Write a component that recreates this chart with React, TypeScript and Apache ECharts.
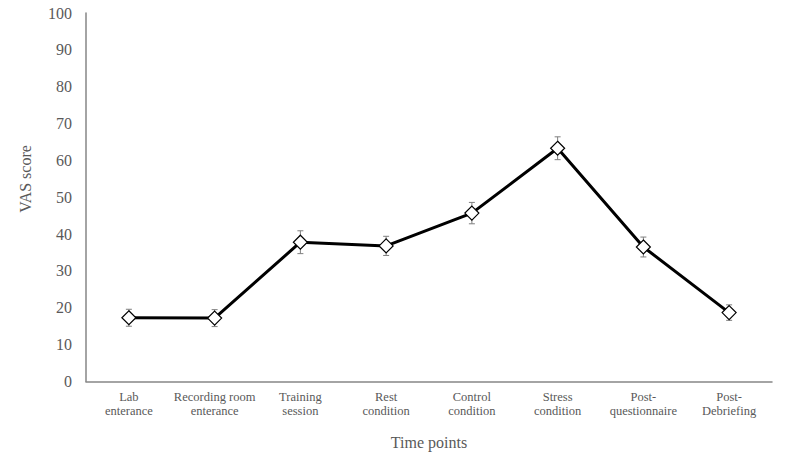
import React, { useEffect, useRef } from "react";
import * as echarts from "echarts";

const categories = [
  "Lab\nenterance",
  "Recording room\nenterance",
  "Training\nsession",
  "Rest\ncondition",
  "Control\ncondition",
  "Stress\ncondition",
  "Post-\nquestionnaire",
  "Post-\nDebriefing",
];
const vasMeans = [17.3, 17.2, 37.8, 36.8, 45.7, 63.3, 36.5, 18.7];
const vasErrors = [2.3, 2.3, 3.1, 2.6, 2.9, 3.1, 2.7, 2.1];
const yTicks = { min: 0, max: 100, interval: 10 };
const yTitle = "VAS score";
const xTitle = "Time points";

const FONT = "'Liberation Serif', 'DejaVu Serif', serif";

export default function App() {
  const ref = useRef<HTMLDivElement>(null);
  useEffect(() => {
    if (!ref.current) return;
    const chart = echarts.init(ref.current, null, { renderer: "svg" });
    const errData = vasMeans.map((m, i) => [i, m - vasErrors[i], m + vasErrors[i]]);
    chart.setOption({
      animation: false,
      backgroundColor: "#ffffff",
      graphic: [
        {
          type: "rect",
          shape: { x: 0.5, y: 0.5, width: 786, height: 456 },
          style: { fill: "none", stroke: "#d9d9d9", lineWidth: 1 },
          silent: true,
        },
        {
          type: "text",
          x: 25,
          y: 179,
          rotation: Math.PI / 2,
          style: {
            text: yTitle,
            fontFamily: FONT,
            fontSize: 16,
            fill: "#595959",
            align: "center",
            verticalAlign: "middle",
          },
          silent: true,
        },
      ],
      grid: { left: 86, right: 15, top: 13, bottom: 78.5 },
      xAxis: {
        type: "category",
        data: categories,
        boundaryGap: true,
        name: xTitle,
        nameLocation: "middle",
        nameGap: 53,
        nameTextStyle: { fontFamily: FONT, fontSize: 16, color: "#595959" },
        axisLine: { lineStyle: { color: "#868686", width: 1.5 } },
        axisTick: { show: false },
        axisLabel: {
          fontFamily: FONT,
          fontSize: 12.5,
          color: "#595959",
          lineHeight: 13.5,
          margin: 9,
          interval: 0,
        },
      },
      yAxis: {
        type: "value",
        min: yTicks.min,
        max: yTicks.max,
        interval: yTicks.interval,
        axisLine: { show: true, lineStyle: { color: "#868686", width: 1.5 } },
        axisTick: { show: false },
        splitLine: { show: false },
        axisLabel: { fontFamily: FONT, fontSize: 16, color: "#595959", margin: 14 },
      },
      series: [
        {
          type: "custom",
          data: errData,
          z: 1,
          renderItem: (params: any, api: any) => {
            const x = api.value(0);
            const lo = api.coord([x, api.value(1)]);
            const hi = api.coord([x, api.value(2)]);
            const cap = 3;
            const style = { stroke: "#7f7f7f", lineWidth: 1 };
            return {
              type: "group",
              children: [
                { type: "line", shape: { x1: lo[0], y1: lo[1], x2: hi[0], y2: hi[1] }, style },
                { type: "line", shape: { x1: lo[0] - cap, y1: lo[1], x2: lo[0] + cap, y2: lo[1] }, style },
                { type: "line", shape: { x1: hi[0] - cap, y1: hi[1], x2: hi[0] + cap, y2: hi[1] }, style },
              ],
            };
          },
        },
        {
          type: "line",
          data: vasMeans,
          z: 3,
          symbol: "diamond",
          symbolSize: 14,
          lineStyle: { color: "#000000", width: 3 },
          itemStyle: { color: "#ffffff", borderColor: "#000000", borderWidth: 1.2 },
        },
      ],
    });
    return () => chart.dispose();
  }, []);
  return <div ref={ref} style={{ width: 787, height: 460, margin: -8 }} />;
}
